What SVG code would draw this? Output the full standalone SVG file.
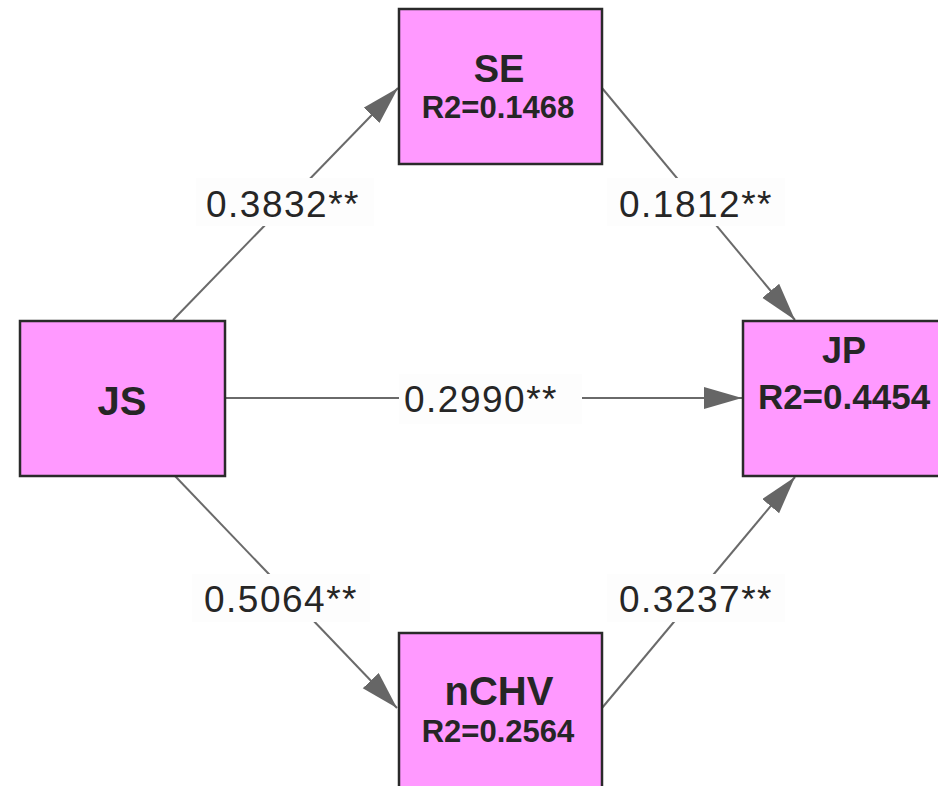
<svg xmlns="http://www.w3.org/2000/svg" width="938" height="786" viewBox="0 0 938 786">
  <style>
    .node rect { fill: #ff99ff; stroke: #2a2a2a; stroke-width: 2.5; }
    .name { font-family: "Liberation Sans", Arial, sans-serif; font-weight: bold; fill: #262626; text-anchor: middle; }
    .edge { stroke: #6a6a6a; stroke-width: 2; fill: none; marker-end: url(#arrow); }
    .lbl-bg { fill: #fdfdfd; }
    .lbl { font-family: "Liberation Sans", Arial, sans-serif; font-size: 37px; letter-spacing: 1.5px; fill: #262626; text-anchor: middle; }
  </style>
  <defs>
    <marker id="arrow" markerUnits="userSpaceOnUse" markerWidth="40" markerHeight="24" refX="38" refY="11" orient="auto">
      <path d="M0,0 L38,11 L0,22 Z" fill="#666666"/>
    </marker>
  </defs>
  <rect width="938" height="786" fill="#ffffff"/>

  <g id="connectors">
    <line class="edge" x1="173" y1="320" x2="398" y2="88"/>
    <line class="edge" x1="602" y1="88" x2="795" y2="320"/>
    <line class="edge" x1="225" y1="398" x2="742" y2="398"/>
    <line class="edge" x1="175" y1="476" x2="397" y2="708"/>
    <line class="edge" x1="602" y1="708" x2="795" y2="477"/>

    <rect class="lbl-bg" x="196" y="178" width="178" height="48"/>
    <text class="lbl" x="283" y="217">0.3832**</text>
    <rect class="lbl-bg" x="607" y="178" width="178" height="48"/>
    <text class="lbl" x="696" y="217">0.1812**</text>
    <rect class="lbl-bg" x="399" y="374" width="183" height="50"/>
    <text class="lbl" x="481" y="412">0.2990**</text>
    <rect class="lbl-bg" x="192" y="574" width="178" height="48"/>
    <text class="lbl" x="281" y="612">0.5064**</text>
    <rect class="lbl-bg" x="607" y="574" width="178" height="48"/>
    <text class="lbl" x="696" y="612">0.3237**</text>
  </g>

  <g id="JS" class="node">
    <rect x="20" y="321" width="205" height="155"/>
    <text class="name" x="122" y="415" font-size="40">JS</text>
  </g>

  <g id="SE" class="node">
    <rect x="399" y="9" width="203" height="155"/>
    <text class="name" x="499" y="82" font-size="38">SE</text>
    <text class="name" x="498" y="118" font-size="31">R2=0.1468</text>
  </g>

  <g id="JP" class="node">
    <rect x="743" y="321" width="204" height="155"/>
    <text class="name" x="844" y="363" font-size="36">JP</text>
    <text class="name" x="844" y="409" font-size="35">R2=0.4454</text>
  </g>

  <g id="nCHV" class="node">
    <rect x="399" y="633" width="203" height="160"/>
    <text class="name" x="499" y="705" font-size="40">nCHV</text>
    <text class="name" x="498" y="742" font-size="31">R2=0.2564</text>
  </g>
</svg>
